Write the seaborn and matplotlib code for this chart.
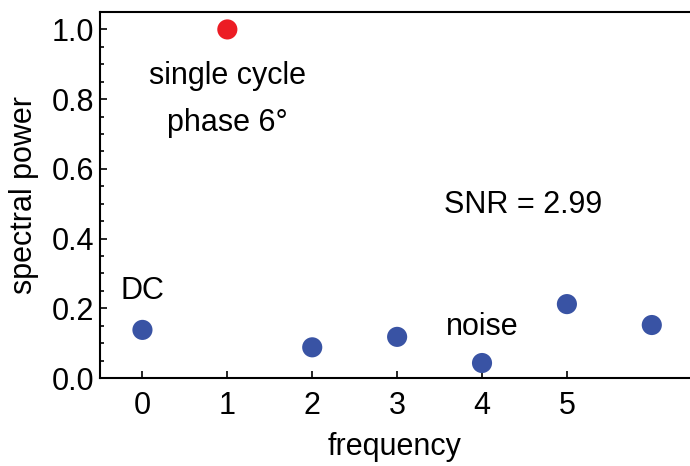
import numpy as np
import pandas as pd
import matplotlib
matplotlib.use("Agg")
import matplotlib.pyplot as plt
from matplotlib.ticker import MultipleLocator
import seaborn as sns

# valores
frequencia = [0, 1, 2, 3, 4, 5, 6]
potencia = [0.138, 1.0, 0.088, 0.118, 0.043, 0.212, 0.152]
tipo = ["noise", "signal", "noise", "noise", "noise", "noise", "noise"]
xticks = [0, 1, 2, 3, 4, 5]
yticks = [0.0, 0.2, 0.4, 0.6, 0.8, 1.0]

df = pd.DataFrame({"frequency": frequencia, "power": potencia, "kind": tipo})

sns.set_style("ticks")
plt.rcParams["font.family"] = ["Liberation Sans", "DejaVu Sans"]
plt.rcParams["text.color"] = "black"
plt.rcParams["axes.labelcolor"] = "black"
plt.rcParams["xtick.color"] = "black"
plt.rcParams["ytick.color"] = "black"

fig = plt.figure(figsize=(6.9, 4.66), dpi=100)
ax = fig.add_axes([100 / 690, (466 - 378) / 466, 590 / 690, 366 / 466])

sns.scatterplot(data=df, x="frequency", y="power", hue="kind",
                palette={"noise": "#3953A4", "signal": "#EC1C24"},
                s=210, edgecolor="none", legend=False, ax=ax, zorder=3)

ax.set_xlim(-0.5, 6.45)
ax.set_ylim(0, 1.05)
ax.set_xticks(xticks)
ax.set_yticks(yticks)
ax.set_yticklabels([f"{v:.1f}" for v in yticks])
ax.yaxis.set_minor_locator(MultipleLocator(0.05))
ax.tick_params(direction="in", which="both", labelsize=22, width=1.2)
ax.tick_params(which="major", length=5)
ax.tick_params(which="minor", length=3)
ax.tick_params(axis="x", pad=9)
ax.tick_params(axis="y", pad=4)

for lado in ["left", "bottom", "top"]:
    ax.spines[lado].set_linewidth(1.5)
    ax.spines[lado].set_color("black")
ax.spines["right"].set_visible(False)

ax.set_xlabel("frequency", fontsize=22, labelpad=8)
ax.set_ylabel("spectral power", fontsize=22, labelpad=9)

ax.text(1, 0.865, "single cycle", fontsize=22, ha="center", va="center")
ax.text(1, 0.732, "phase 6°", fontsize=22, ha="center", va="center")
ax.text(0, 0.25, "DC", fontsize=22, ha="center", va="center")
ax.text(4, 0.145, "noise", fontsize=22, ha="center", va="center")
ax.text(4.48, 0.495, "SNR = 2.99", fontsize=22, ha="center", va="center")

fig.savefig("out.png", dpi=100)
